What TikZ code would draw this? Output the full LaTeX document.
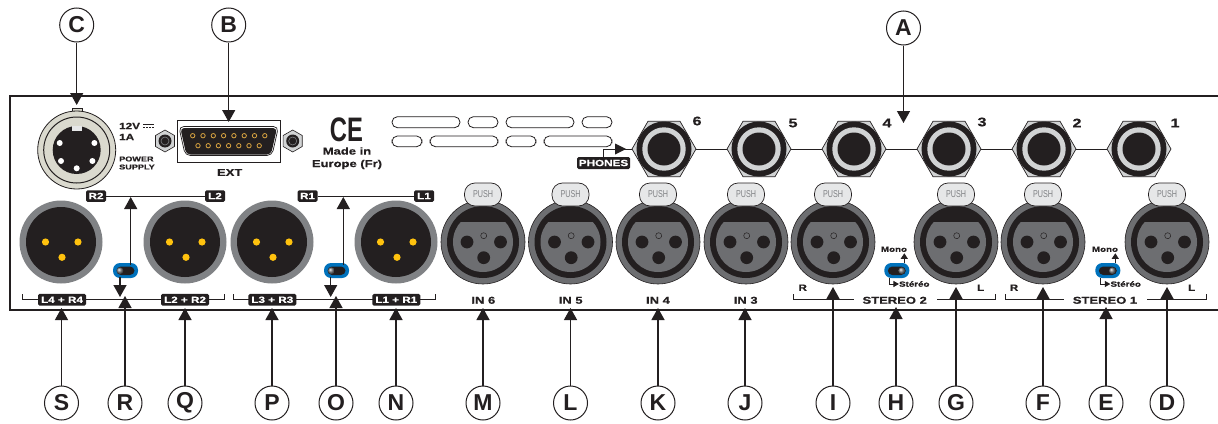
\documentclass[tikz,border=0pt]{standalone}
\usepackage{fontspec}
\usetikzlibrary{arrows.meta,shapes.geometric}
\newfontfamily\panelfont[FakeStretch=1.3,BoldFeatures={FakeBold=0.6}]{Liberation Sans}
\newfontfamily\pushfont[FakeStretch=0.72]{Liberation Sans}
\newfontfamily\markfont[FakeStretch=0.7]{Liberation Sans}
\setmainfont{Liberation Sans}
\definecolor{inkblack}{HTML}{231F20}
\definecolor{ringgray}{HTML}{808285}
\definecolor{shellgray}{HTML}{6D6E71}
\definecolor{tabgray}{HTML}{E6E7E8}
\definecolor{hexgray}{HTML}{D1D3D4}
\definecolor{pinyellow}{HTML}{FFC20E}
\definecolor{pinorange}{HTML}{D9A441}
\definecolor{switchblue}{HTML}{0072BC}
\definecolor{creamgray}{HTML}{DAD9CE}
\tikzset{
	letter/.style={draw=inkblack,line width=1pt,circle,fill=white,minimum size=34pt,inner sep=0pt,text=inkblack,font=\fontsize{23}{23}\selectfont\bfseries},
	callout/.style={draw=inkblack,line width=1.3pt,-{Triangle[length=12pt,width=13pt]}},
	thin line/.style={draw=inkblack,line width=0.9pt},
	tag/.style={fill=inkblack,rounded corners=1.5pt,text=white,inner sep=0pt,font=\panelfont\bfseries\fontsize{9}{9}\selectfont},
	print/.style={text=inkblack,inner sep=0pt,font=\panelfont\bfseries\fontsize{10}{10}\selectfont},
	hexjack/.style={draw=inkblack,line width=0.7pt,fill=hexgray,regular polygon,regular polygon sides=6,minimum size=64pt,inner sep=0pt},
	hexnut/.style={draw=inkblack,line width=0.6pt,fill=hexgray,regular polygon,regular polygon sides=6,shape border rotate=90,minimum size=22pt,inner sep=0pt},
}
% callouts: name, letter, x, y of the circle, tip x, tip y
\def\callout(#1)(#2)(#3,#4)(#5,#6){\node[letter] (#1) at (#3,#4) {#2}; \coordinate (#1tip) at (#5,#6); \draw[callout] (#1) -- (#1tip);}
\def\xlrmale(#1,#2){
	\fill[ringgray] (#1,#2) circle (41.5);
	\fill[inkblack] (#1,#2) circle (35);
	\fill[pinyellow] (#1-15.5,#2) circle (3.6);
	\fill[pinyellow] (#1+17,#2) circle (3.6);
	\fill[pinyellow] (#1+1,#2+15.3) circle (3.6);
}
\def\xlrfemale(#1,#2){
	\draw[fill=shellgray,draw=inkblack,line width=0.6pt] (#1,#2) circle (42);
	\fill[inkblack] (#1,#2) circle (36);
	\begin{scope}
		\clip (#1-30,#2-20) rectangle (#1+30,#2+35);
		\fill[shellgray] (#1,#2) circle (30);
	\end{scope}
	\fill[inkblack] (#1-16,#2) circle (6.4);
	\fill[inkblack] (#1+17.5,#2) circle (6.4);
	\fill[inkblack] (#1+0.7,#2+15.7) circle (6.4);
	\draw[inkblack,line width=0.5pt] (#1+0.7,#2-6.3) circle (3);
	\draw[fill=tabgray,draw=inkblack,line width=0.7pt,rounded corners=10.5pt] (#1-18.5,#2-36) -- (#1-18.5,#2-59) -- (#1+18.5,#2-59) -- (#1+18.5,#2-36) -- cycle;
}
\def\phonejack(#1)(#2,#3)(#4)(#5,#6){
	\node[hexjack] (#1) at (#2,#3) {};
	\fill[inkblack] (#2,#3) circle (27.5);
	\fill[hexgray] (#2,#3) circle (21.7);
	\fill[inkblack] (#2,#3) circle (16.5);
	\node[print,font=\panelfont\bfseries\fontsize{12.5}{12.5}\selectfont] (#1num) at (#5,#6) {#4};
}
\def\slideswitch(#1,#2)(#3){
	\fill[switchblue,rounded corners=7pt] (#1,#2) rectangle (#1+25,#2+15);
	\fill[inkblack,rounded corners=4.5pt] (#1+3.5,#2+3.5) rectangle (#1+21.5,#2+12);
	\shade[ball color=ringgray] (#3,#2+7.7) circle (3.4);
}

\begin{document}
\begin{tikzpicture}[x=1pt,y=-1pt]
		%%%%% START %%%%%
		\useasboundingbox (0, 0) rectangle (1218, 423);
		\fill[white] (0, 0) rectangle (1218, 423);
		
		% panel
		\draw[line width=1.2pt, color=inkblack] (1218, 96) -- (10, 96) -- (10, 310) -- (1218, 310);
		
		% power socket
		\draw[fill=creamgray, draw=inkblack, line width=0.6pt] (72, 108) rectangle (82, 112);
		\draw[fill=creamgray, draw=inkblack, line width=0.8pt] (76.7, 150) circle (39);
		\draw[fill=creamgray, draw=inkblack, line width=1pt] (76.7, 150) circle (33);
		\fill[inkblack] (76.7, 150) circle (24);
		\fill[tabgray] (72.2, 125.7) rectangle (82, 130.7);
		\fill[white] (59.7, 143) circle (3);
		\fill[white] (94.4, 143) circle (3);
		\fill[white] (61, 161) circle (3);
		\fill[white] (76.7, 168.3) circle (3);
		\fill[white] (92.4, 161) circle (3);
		\node[print, font=\panelfont\bfseries\fontsize{9}{9}\selectfont, anchor=west] (volts) at (119, 126) {12V};
		\node[print, font=\panelfont\bfseries\fontsize{9}{9}\selectfont, anchor=west] (amps) at (119, 137) {1A};
		\draw[inkblack, line width=0.8pt] (143, 124) -- (154, 124);
		\draw[inkblack, line width=0.8pt, dash pattern=on 2pt off 1pt] (143, 127) -- (154, 127);
		\node[print, font=\panelfont\bfseries\fontsize{7}{7}\selectfont, anchor=west] (power) at (119, 159) {POWER};
		\node[print, font=\panelfont\bfseries\fontsize{7}{7}\selectfont, anchor=west] (supply) at (119, 167) {SUPPLY};
		
		% ext connector
		\draw[fill=white, draw=inkblack, line width=0.8pt] (177.3, 120) rectangle (280, 162.5);
		\draw[fill=white, draw=inkblack, line width=0.7pt, rounded corners=5pt] (178.8, 126.5) -- (278.5, 126.5) -- (272, 155.5) -- (185.3, 155.5) -- cycle;
		\fill[inkblack, rounded corners=4pt] (180.3, 128) -- (277, 128) -- (271, 154.5) -- (186.3, 154.5) -- cycle;
		\foreach \pinx in {192.7,203,213.3,223.6,233.9,244.2,254.5,264.8}
			\draw[pinorange, line width=0.8pt] (\pinx, 135.7) circle (2.2);
		\foreach \pinx in {198,208.2,218.4,228.6,238.8,249,259.2}
			\draw[pinorange, line width=0.8pt] (\pinx, 145.7) circle (2.2);
		\node[hexnut] (nutleft) at (165, 141) {};
		\fill[inkblack] (165, 141) circle (6.5);
		\draw[ringgray, line width=0.6pt] (165, 141) circle (4);
		\node[hexnut] (nutright) at (292.7, 141) {};
		\fill[inkblack] (292.7, 141) circle (6.5);
		\draw[ringgray, line width=0.6pt] (292.7, 141) circle (4);
		\node[print] (ext) at (229.7, 172.5) {EXT};
		
		% ce mark
		\node[print, font=\markfont\bfseries\fontsize{34}{34}\selectfont] (ce) at (346.5, 129.5) {CE};
		\node[print] (madein) at (347, 151) {Made in};
		\node[print] (europe) at (347, 164.5) {Europe (Fr)};
		
		% vent slots
		\foreach \ax/\bx in {392/460,468/498,506/574,582/612}
			\draw[inkblack, line width=0.8pt, rounded corners=5.4pt] (\ax, 116.7) rectangle (\bx, 127.7);
		\foreach \ax/\bx in {392/422,430/498,506/536,544/612}
			\draw[inkblack, line width=0.8pt, rounded corners=5.4pt] (\ax, 136) rectangle (\bx, 146.7);
		
		% phones
		\phonejack(jacksix)(664,149)(6)(697,121)
		\phonejack(jackfive)(759,149)(5)(793,123)
		\phonejack(jackfour)(854,149)(4)(887,123)
		\phonejack(jackthree)(949,149)(3)(982,122)
		\phonejack(jacktwo)(1044,149)(2)(1077,123)
		\phonejack(jackone)(1139,149)(1)(1175,123)
		\draw[thin line] (jacksix) -- (jackfive);
		\draw[thin line] (jackfive) -- (jackfour);
		\draw[thin line] (jackfour) -- (jackthree);
		\draw[thin line] (jackthree) -- (jacktwo);
		\draw[thin line] (jacktwo) -- (jackone);
		\node[tag, minimum width=53pt, minimum height=12pt] (phones) at (603.5, 163) {PHONES};
		\coordinate (phonesbend) at (603.5, 149);
		\draw[thin line] (phones.north -| phonesbend) -- (phonesbend) -- (jacksix.west);
		\fill[inkblack] (626, 149) -- (615, 143.5) -- (615, 154.5) -- cycle;
		
		% male outputs
		\xlrmale(61,242)
		\xlrmale(185,242)
		\xlrmale(272,242)
		\xlrmale(396,242)
		
		\node[tag, minimum width=20pt, minimum height=11.5pt] (rtwo) at (96, 196) {R2};
		\node[tag, minimum width=20pt, minimum height=11.5pt] (ltwo) at (215, 196) {L2};
		\draw[thin line] (rtwo) -- (ltwo);
		\node[tag, minimum width=20pt, minimum height=11.5pt] (rone) at (307.5, 196) {R1};
		\node[tag, minimum width=20pt, minimum height=11.5pt] (lone) at (424, 196) {L1};
		\draw[thin line] (rone) -- (lone);
		
		\draw[thin line] (22.7, 294.3) -- (22.7, 299) -- (224, 299) -- (224, 294.3);
		\draw[thin line] (233.3, 294.3) -- (233.3, 299) -- (435, 299) -- (435, 294.3);
		\node[tag, minimum width=48pt, minimum height=11.7pt] (lfour) at (62, 299.8) {L4 + R4};
		\node[tag, minimum width=48pt, minimum height=11.7pt] (ltwosum) at (185, 299.8) {L2 + R2};
		\node[tag, minimum width=48pt, minimum height=11.7pt] (lthree) at (272.3, 299.8) {L3 + R3};
		\node[tag, minimum width=48pt, minimum height=11.7pt] (lonesum) at (396.3, 299.8) {L1 + R1};
		
		\slideswitch(113,263)(120)
		\slideswitch(324,263)(331.3)
		\coordinate (swaup) at (130.7, 265);
		\coordinate (swaupend) at (130.7, 197);
		\draw[callout] (swaup) -- (swaupend);
		\coordinate (swadown) at (120, 277);
		\coordinate (swadownend) at (120, 297);
		\draw[callout] (swadown) -- (swadownend);
		\coordinate (swbup) at (343.3, 265);
		\coordinate (swbupend) at (343.3, 197);
		\draw[callout] (swbup) -- (swbupend);
		\coordinate (swbdown) at (330.7, 277);
		\coordinate (swbdownend) at (330.7, 297);
		\draw[callout] (swbdown) -- (swbdownend);
		
		% female inputs
		\xlrfemale(483,242)
		\xlrfemale(570.5,242)
		\xlrfemale(658,242)
		\xlrfemale(746,242)
		\xlrfemale(833,242)
		\xlrfemale(956,242)
		\xlrfemale(1043,242)
		\xlrfemale(1167,242)
		
		\node[text=ringgray, inner sep=0pt, font=\pushfont\fontsize{10}{10}\selectfont] (pushsix) at (483, 194.5) {PUSH};
		\node[text=ringgray, inner sep=0pt, font=\pushfont\fontsize{10}{10}\selectfont] (pushfive) at (570.5, 194.5) {PUSH};
		\node[text=ringgray, inner sep=0pt, font=\pushfont\fontsize{10}{10}\selectfont] (pushfour) at (658, 194.5) {PUSH};
		\node[text=ringgray, inner sep=0pt, font=\pushfont\fontsize{10}{10}\selectfont] (pushthree) at (746, 194.5) {PUSH};
		\node[text=ringgray, inner sep=0pt, font=\pushfont\fontsize{10}{10}\selectfont] (pushtwor) at (833, 194.5) {PUSH};
		\node[text=ringgray, inner sep=0pt, font=\pushfont\fontsize{10}{10}\selectfont] (pushtwol) at (956, 194.5) {PUSH};
		\node[text=ringgray, inner sep=0pt, font=\pushfont\fontsize{10}{10}\selectfont] (pushoner) at (1043, 194.5) {PUSH};
		\node[text=ringgray, inner sep=0pt, font=\pushfont\fontsize{10}{10}\selectfont] (pushonel) at (1167, 194.5) {PUSH};
		
		\node[print] (insix) at (483.3, 300.3) {IN 6};
		\node[print] (infive) at (570.7, 300.3) {IN 5};
		\node[print] (infour) at (658, 300.3) {IN 4};
		\node[print] (inthree) at (745.7, 300.3) {IN 3};
		
		% stereo brackets
		\node[print] (stereotwo) at (894.7, 300.3) {STEREO 2};
		\node[print] (stereoone) at (1105, 300.3) {STEREO 1};
		\draw[thin line] (793.3, 294) -- (793.3, 299.5) -- (854, 299.5);
		\draw[thin line] (937, 299.5) -- (995.3, 299.5) -- (995.3, 294);
		\draw[thin line] (1005, 294) -- (1005, 299.5) -- (1064, 299.5);
		\draw[thin line] (1147, 299.5) -- (1206, 299.5) -- (1206, 294);
		\node[print, font=\panelfont\bfseries\fontsize{9}{9}\selectfont] (rstereotwo) at (802.7, 287.7) {R};
		\node[print, font=\panelfont\bfseries\fontsize{9}{9}\selectfont] (lstereotwo) at (980.7, 287.7) {L};
		\node[print, font=\panelfont\bfseries\fontsize{9}{9}\selectfont] (rstereoone) at (1014, 287.7) {R};
		\node[print, font=\panelfont\bfseries\fontsize{9}{9}\selectfont] (lstereoone) at (1191.7, 287.7) {L};
		
		% mono switches
		\slideswitch(884.3,263)(901.7)
		\slideswitch(1095.3,263)(1112.3)
		\node[print, font=\panelfont\bfseries\fontsize{7.5}{7.5}\selectfont] (monotwo) at (894, 249.3) {Mono};
		\node[print, font=\panelfont\bfseries\fontsize{7.5}{7.5}\selectfont] (monoone) at (1105, 249.3) {Mono};
		\node[print, font=\panelfont\bfseries\fontsize{7.5}{7.5}\selectfont] (stereotexttwo) at (914.3, 284) {Stéréo};
		\node[print, font=\panelfont\bfseries\fontsize{7.5}{7.5}\selectfont] (stereotextone) at (1125.7, 284) {Stéréo};
		\draw[line width=0.8pt, inkblack, -{Triangle[length=5.5pt,width=7pt]}] (904.3, 263) -- (904.3, 253.3);
		\draw[line width=0.8pt, inkblack, -{Triangle[length=5.5pt,width=7pt]}] (1115.3, 263) -- (1115.3, 253.3);
		\draw[line width=0.8pt, inkblack, -{Triangle[length=5.5pt,width=6pt]}] (889.3, 277.7) -- (889.3, 284) -- (stereotexttwo.west);
		\draw[line width=0.8pt, inkblack, -{Triangle[length=5.5pt,width=6pt]}] (1100.7, 277.7) -- (1100.7, 284) -- (stereotextone.west);
		
		% letters
		\callout(letterC)(C)(76.7,25)(76.7,105)
		\callout(letterB)(B)(228.7,25)(228.7,122)
		\callout(letterA)(A)(903.5,28)(903.5,123)
		\callout(letterS)(S)(61.5,403)(61.5,308)
		\callout(letterR)(R)(125,403)(125,296)
		\callout(letterQ)(Q)(185,403)(185,308)
		\callout(letterP)(P)(272,403)(272,308)
		\callout(letterO)(O)(336,403)(336,296)
		\callout(letterN)(N)(396,403)(396,308)
		\callout(letterM)(M)(483,403)(483,308)
		\callout(letterL)(L)(570.5,403)(570.5,308)
		\callout(letterK)(K)(658,403)(658,308)
		\callout(letterJ)(J)(745,403)(745,308)
		\callout(letterI)(I)(833,403)(833,287)
		\callout(letterH)(H)(896,403)(896,307)
		\callout(letterG)(G)(956,403)(956,287)
		\callout(letterF)(F)(1043,403)(1043,287)
		\callout(letterE)(E)(1106,403)(1106,307)
		\callout(letterD)(D)(1167,403)(1167,287)
		
		%%%%% END %%%%%
	\end{tikzpicture}
\end{document}
